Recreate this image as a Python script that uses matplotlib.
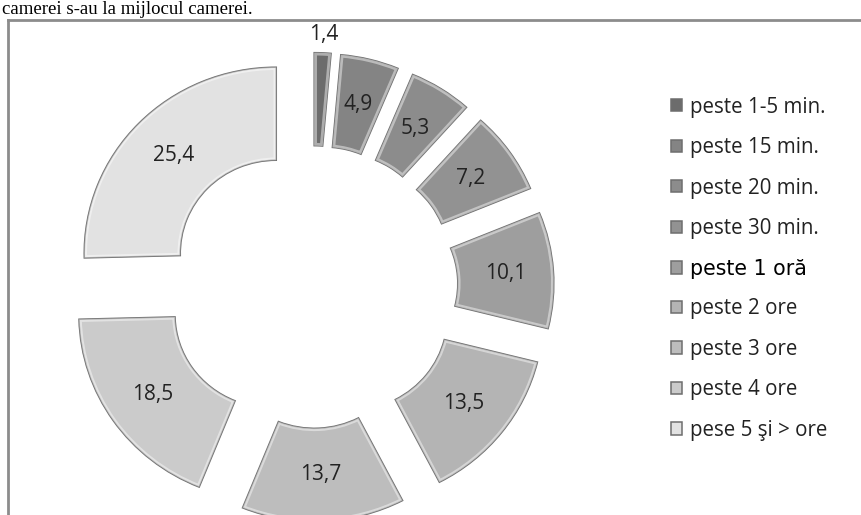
import matplotlib
matplotlib.use("Agg")
import matplotlib.pyplot as plt
import numpy as np
from matplotlib.patches import PathPatch

categories = ["peste 1-5 min.", "peste 15 min.", "peste 20 min.", "peste 30 min.",
              "peste 1 oră", "peste 2 ore", "peste 3 ore", "peste 4 ore", "pese 5 şi > ore"]
values = [1.4, 4.9, 5.3, 7.2, 10.1, 13.5, 13.7, 18.5, 25.4]
value_labels = ["1,4", "4,9", "5,3", "7,2", "10,1", "13,5", "13,7", "18,5", "25,4"]
colors = ["#6c6c6c", "#848484", "#8c8c8c", "#929292", "#9e9e9e",
          "#b4b4b4", "#bdbdbd", "#cbcbcb", "#e2e2e2"]

W, H = 861, 515
fig = plt.figure(figsize=(W / 100, H / 100), dpi=100)
ax = fig.add_axes([0, 0, 1, 1])

Rx, Ry = 192.0, 186.0
cx, cy = 312.0, 287.0
explode = 0.26
ring = 0.5

wedges, _ = ax.pie(values, colors=colors, startangle=90, counterclock=False,
                   explode=[explode] * len(values), radius=1.0,
                   wedgeprops=dict(width=ring, edgecolor="#6e6e6e", linewidth=1.1))

# soft inner bevel highlight, clipped to each wedge
for w in wedges:
    hl = PathPatch(w.get_path(), transform=w.get_transform(), facecolor="none",
                   edgecolor="white", linewidth=4, alpha=0.45, zorder=w.get_zorder() + 0.1)
    ax.add_patch(hl)
    hl.set_clip_path(w)

ax.set_xlim(-cx / Rx, (W - cx) / Rx)
ax.set_ylim(-(H - cy) / Ry, cy / Ry)
ax.set_aspect("auto")
ax.axis("off")

for w, lab in zip(wedges, value_labels):
    ang = np.deg2rad((w.theta1 + w.theta2) / 2)
    c = w.center
    r = 1.1 if lab == "1,4" else 1 - ring / 2
    ax.text(c[0] + r * np.cos(ang), c[1] + r * np.sin(ang), lab,
            ha="center", va="center", fontsize=15, color="#222222",
            family="Open Sans", zorder=5)

leg = ax.legend(wedges, categories, loc="upper left",
                bbox_to_anchor=(652 / W, 1 - 78 / H),
                frameon=False, handlelength=0.55, handleheight=0.55,
                labelspacing=0.95, handletextpad=0.4,
                prop={"family": "Open Sans", "size": 14.8})
for t in leg.get_texts():
    t.set_color("#222222")
leg.get_texts()[4].set_fontfamily("DejaVu Sans")
leg.get_texts()[4].set_fontsize(14.8)
leg.get_texts()[4].set_color("#000000")

# frame and heading
fig.add_artist(plt.Line2D([8 / W, 8 / W], [0, 1 - 20 / H], transform=fig.transFigure,
                          color="#8c8c8c", lw=2))
fig.add_artist(plt.Line2D([8 / W, 1], [1 - 20 / H, 1 - 20 / H], transform=fig.transFigure,
                          color="#8c8c8c", lw=2))
fig.text(2 / W, 1 - 14 / H, "camerei s-au la mijlocul camerei.", family="Liberation Serif",
         fontsize=13.5, va="baseline", ha="left", color="#000000")

fig.savefig("out.png", dpi=100)
